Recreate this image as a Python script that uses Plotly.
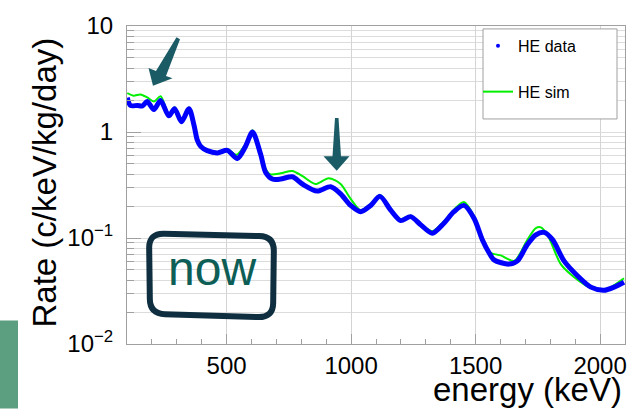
import plotly.graph_objects as go

# ---- data ----
data_energy = [101, 114, 142, 162, 181, 208, 235, 268, 291, 319, 349, 369, 382, 396, 422, 463,
               503, 543, 576, 604, 637, 657, 684, 717, 764, 804, 864, 918, 958, 998, 1038, 1079,
               1116, 1159, 1199, 1239, 1280, 1326, 1373, 1413, 1453, 1494, 1527, 1554, 1574, 1634,
               1668, 1708, 1742, 1775, 1809, 1855, 1909, 1963, 2016, 2056, 2096]
data_rate = [2.11, 1.78, 1.78, 1.76, 1.94, 1.63, 1.98, 1.42, 1.66, 1.25, 1.66, 1.16, 0.843, 0.731,
             0.667, 0.635, 0.671, 0.562, 0.731, 1.0, 0.612, 0.415, 0.36, 0.36, 0.378, 0.323, 0.277,
             0.305, 0.261, 0.203, 0.177, 0.203, 0.247, 0.183, 0.146, 0.159, 0.133, 0.111, 0.138,
             0.177, 0.203, 0.153, 0.0964, 0.0726, 0.0622, 0.0567, 0.0608, 0.0867, 0.107, 0.113,
             0.0964, 0.0608, 0.0441, 0.0344, 0.0321, 0.0344, 0.0383]

sim_energy = [101, 126, 154, 181, 208, 235, 268, 291, 319, 349, 369, 382, 396, 422, 463, 503, 539,
              576, 604, 637, 657, 674, 717, 764, 805, 857, 910, 958, 998, 1038, 1079, 1116, 1159,
              1199, 1239, 1280, 1326, 1373, 1413, 1453, 1494, 1527, 1561, 1601, 1655, 1708, 1742,
              1762, 1789, 1842, 1896, 1963, 2016, 2096]
sim_rate = [2.33, 2.2, 2.26, 2.12, 1.94, 2.17, 1.47, 1.71, 1.29, 1.71, 1.19, 0.88, 0.76, 0.68,
            0.645, 0.69, 0.61, 0.77, 1.04, 0.64, 0.45, 0.40, 0.408, 0.429, 0.383, 0.323, 0.367,
            0.323, 0.234, 0.183, 0.21, 0.255, 0.19, 0.15, 0.163, 0.135, 0.116, 0.144, 0.185,
            0.219, 0.161, 0.1, 0.0726, 0.0685, 0.0608, 0.0964, 0.124, 0.126, 0.107, 0.0567,
            0.0427, 0.0337, 0.0321, 0.0417]

x_ticks = [500, 1000, 1500, 2000]
y_ticks = [0.01, 0.1, 1, 10]
y_ticktext = ["10<sup>\u22122</sup>", "10<sup>\u22121</sup>", "1", "10"]
y_minor = [m * 10.0 ** e for e in (-2, -1, 0) for m in range(2, 10)]

# ---- layout geometry (pixels) ----
W, H = 641, 410
ML, MR, MT, MB = 127, 16, 19, 66
PW, PH = W - ML - MR, H - MT - MB


def px(x):
    return (x - ML) / PW


def py(y):
    return 1 - (y - MT) / PH


def poly(points):
    s = "M " + " L ".join(f"{px(a):.5f},{py(b):.5f}" for a, b in points) + " Z"
    return s


def rounded(corners, r):
    import math
    n = len(corners)
    segs = []
    for i in range(n):
        p0 = corners[i - 1]
        p1 = corners[i]
        p2 = corners[(i + 1) % n]

        def toward(a, b, d):
            dx, dy = b[0] - a[0], b[1] - a[1]
            L = math.hypot(dx, dy)
            return (a[0] + dx / L * d, a[1] + dy / L * d)
        a = toward(p1, p0, r)
        b = toward(p1, p2, r)
        segs.append((a, p1, b))
    d = f"M {px(segs[0][0][0]):.5f},{py(segs[0][0][1]):.5f} "
    for i, (a, c, b) in enumerate(segs):
        if i > 0:
            d += f"L {px(a[0]):.5f},{py(a[1]):.5f} "
        d += f"Q {px(c[0]):.5f},{py(c[1]):.5f} {px(b[0]):.5f},{py(b[1]):.5f} "
    d += "Z"
    return d


FONT = "Liberation Sans, Arial, Helvetica, sans-serif"
fig = go.Figure()

fig.add_trace(go.Scatter(x=sim_energy, y=sim_rate, mode="lines", name="HE sim",
                         line=dict(color="#00ee00", width=2, shape="spline", smoothing=0.8),
                         legendgroup="b", legendrank=2))
fig.add_trace(go.Scatter(x=data_energy, y=data_rate, mode="lines", name="HE data",
                         line=dict(color="#0000ff", width=5, shape="spline", smoothing=0.8),
                         showlegend=False, hoverinfo="x+y"))
fig.add_trace(go.Scatter(x=[None], y=[None], mode="markers", name="HE data",
                         marker=dict(color="#0000ff", size=4),
                         legendgroup="a", legendrank=1))

grid = "#dcdcdc"
axcol = "#a0a0a0"
fig.update_xaxes(range=[100, 2100], tickvals=x_ticks, ticks="inside", ticklen=10,
                 tickcolor=axcol, showline=True, linecolor=axcol, mirror=True,
                 showgrid=True, gridcolor="#d4d4d4", zeroline=False,
                 minor=dict(dtick=100, tick0=0, ticks="inside", ticklen=5, tickcolor=axcol,
                            showgrid=False),
                 tickfont=dict(family=FONT, size=24, color="black"))
fig.update_yaxes(type="log", range=[-2, 1], tickvals=y_ticks, ticktext=y_ticktext,
                 ticks="inside", ticklen=14, tickcolor=axcol, showline=True,
                 linecolor=axcol, mirror=True, showgrid=True, gridcolor=grid,
                 ticklabelstandoff=8,
                 minor=dict(tickvals=y_minor, ticks="inside", ticklen=7, tickcolor=axcol,
                            showgrid=True, gridcolor=grid),
                 tickfont=dict(family=FONT, size=24, color="black"))

shapes = [
    # legend frame
    dict(type="rect", xref="paper", yref="paper", x0=px(483), x1=px(617), y0=py(114), y1=py(22),
         fillcolor="white", line=dict(color="#a0a0a0", width=1), layer="above"),
    # arrow 1
    dict(type="path", xref="paper", yref="paper", layer="above",
         path=poly([(176.5, 30.5), (180, 32.5), (166, 70), (172.5, 72.5), (153, 80),
                    (148.5, 62), (156, 65)]),
         fillcolor="#1a5b65", line=dict(width=0)),
    # arrow 2
    dict(type="path", xref="paper", yref="paper", layer="above",
         path=poly([(335, 113), (338.5, 113), (341, 152), (349.5, 152), (336.7, 167),
                    (323.5, 152), (332.5, 152)]),
         fillcolor="#1a5b65", line=dict(width=0)),
    # hand-drawn box
    dict(type="path", xref="paper", yref="paper", layer="above",
         path=rounded([(149, 231), (274, 234), (273, 317), (150, 313)], 15),
         fillcolor="rgba(0,0,0,0)", line=dict(color="#0f2f40", width=6)),
    # green block bottom-left
    dict(type="rect", xref="paper", yref="paper", x0=px(0), x1=px(18), y0=py(410), y1=py(320),
         fillcolor="#5b9e80", line=dict(width=0), layer="above"),
]

annotations = [
    dict(text="now", xref="paper", yref="paper", x=px(212), y=py(267), xanchor="center",
         yanchor="middle", showarrow=False, font=dict(family=FONT, size=48, color="#0d5e56")),
    dict(text="Rate (c/keV/kg/day)", xref="paper", yref="paper", x=px(45), y=py(179),
         xanchor="center", yanchor="middle", textangle=-90, showarrow=False,
         font=dict(family=FONT, size=33, color="black")),
    dict(text="energy (keV)", xref="paper", yref="paper", x=px(624), y=py(390),
         xanchor="right", yanchor="middle", showarrow=False,
         font=dict(family=FONT, size=33, color="black")),
]

fig.update_layout(
    width=W, height=H, margin=dict(l=ML, r=MR, t=MT, b=MB),
    paper_bgcolor="white", plot_bgcolor="white",
    shapes=shapes, annotations=annotations,
    legend=dict(x=px(478), y=py(22), xanchor="left", yanchor="top",
                bgcolor="rgba(0,0,0,0)", borderwidth=0, traceorder="grouped",
                tracegroupgap=22, font=dict(family=FONT, size=16, color="black")),
    font=dict(family=FONT),
)

fig.write_html("out.html")
